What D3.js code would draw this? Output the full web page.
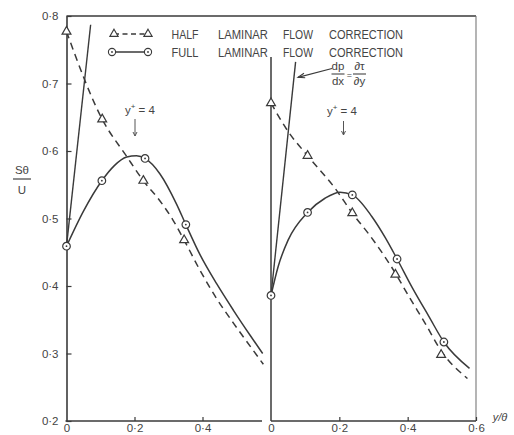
<!DOCTYPE html>
<html>
<head>
<meta charset="utf-8">
<script src="https://cdn.jsdelivr.net/npm/d3@7"></script>
<style>
  html, body { margin: 0; padding: 0; background: #ffffff; }
  svg { display: block; }
  text { font-family: "Liberation Sans", "DejaVu Sans", sans-serif; fill: #444; }
</style>
</head>
<body>
<svg id="chart" width="514" height="435"></svg>
<script>
// ---------- data ----------
const yTicks = [0.2, 0.3, 0.4, 0.5, 0.6, 0.7, 0.8];
const xTicksLeft = [0, 0.2, 0.4];
const xTicksRight = [0, 0.2, 0.4, 0.6];
const legendWords = [["HALF", "LAMINAR", "FLOW", "CORRECTION"], ["FULL", "LAMINAR", "FLOW", "CORRECTION"]];

// left panel
const leftHalfX = [0, 0.105, 0.226, 0.346];
const leftHalfY = [0.777, 0.647, 0.556, 0.468];
const leftFullX = [0, 0.104, 0.231, 0.351];
const leftFullY = [0.459, 0.556, 0.589, 0.491];
const leftHalfCurve = [[0,0.777],[0.105,0.647],[0.177,0.592],[0.226,0.556],[0.275,0.526],[0.314,0.497],[0.346,0.468],[0.393,0.423],[0.442,0.381],[0.491,0.345],[0.540,0.311],[0.579,0.284]];
const leftFullCurve = [[0,0.459],[0.05,0.511],[0.104,0.556],[0.14,0.578],[0.177,0.591],[0.206,0.593],[0.231,0.589],[0.275,0.566],[0.324,0.521],[0.351,0.491],[0.393,0.446],[0.442,0.403],[0.491,0.364],[0.540,0.327],[0.577,0.300]];
const leftGradientLine = [[0,0.459],[0.071,0.787]];

// right panel
const rightHalfX = [0, 0.107, 0.238, 0.364, 0.498];
const rightHalfY = [0.671, 0.593, 0.508, 0.417, 0.298];
const rightFullX = [0, 0.107, 0.238, 0.369, 0.506];
const rightFullY = [0.386, 0.509, 0.535, 0.440, 0.317];
const rightHalfCurve = [[0,0.671],[0.05,0.629],[0.107,0.593],[0.187,0.545],[0.238,0.508],[0.295,0.471],[0.364,0.419],[0.403,0.385],[0.452,0.344],[0.498,0.304],[0.575,0.263]];
const rightFullCurve = [[0,0.386],[0.021,0.429],[0.05,0.468],[0.107,0.509],[0.158,0.530],[0.202,0.539],[0.238,0.535],[0.295,0.503],[0.334,0.472],[0.369,0.440],[0.413,0.398],[0.462,0.355],[0.506,0.317],[0.581,0.278]];
const rightGradientLine = [[0,0.386],[0.072,0.732]];

// ---------- layout ----------
const svg = d3.select("#chart");
const ink = "#3a3a3a";
const yS = d3.scaleLinear().domain([0.2, 0.8]).range([421, 16]);
const xL = d3.scaleLinear().domain([0, 0.6]).range([66.5, 270.5]);
const xR = d3.scaleLinear().domain([0, 0.6]).range([271, 476]);
const fmt = d => (d === 0 ? "0" : d3.format(".1f")(d).replace(".", "\u00B7"));

// frame lines
svg.append("line").attr("x1", xL(0)).attr("x2", xR(0.6)).attr("y1", yS(0.8)).attr("y2", yS(0.8))
  .attr("stroke", ink).attr("stroke-width", 1.3);
svg.append("line").attr("x1", xR(0.6)).attr("x2", xR(0.6)).attr("y1", yS(0.8)).attr("y2", yS(0.2))
  .attr("stroke", "#777").attr("stroke-width", 1.1);
svg.append("line").attr("x1", xL(0) - 1).attr("x2", xL(0.575)).attr("y1", yS(0.2)).attr("y2", yS(0.2))
  .attr("stroke", ink).attr("stroke-width", 1.6);
svg.append("line").attr("x1", xR(0)).attr("x2", xR(0.6)).attr("y1", yS(0.2)).attr("y2", yS(0.2))
  .attr("stroke", ink).attr("stroke-width", 1.6);
svg.append("line").attr("x1", xR(0)).attr("x2", xR(0)).attr("y1", 57).attr("y2", yS(0.2))
  .attr("stroke", ink).attr("stroke-width", 1.5);

// left y axis
const gy = svg.append("g").attr("transform", `translate(${xL(0)},0)`)
  .call(d3.axisLeft(yS).tickValues(yTicks).tickSize(-5).tickSizeOuter(0).tickPadding(8).tickFormat(fmt));
gy.select(".domain").attr("stroke", ink).attr("stroke-width", 1.6);
gy.selectAll(".tick line").attr("stroke", ink).attr("stroke-width", 1.2);
gy.selectAll(".tick text").attr("font-size", 11.5).attr("fill", "#444")
  .attr("font-family", "Liberation Sans, DejaVu Sans, sans-serif");

// bottom axes
function bottomAxis(scale, ticks) {
  const g = svg.append("g").attr("transform", `translate(0,${yS(0.2)})`)
    .call(d3.axisBottom(scale).tickValues(ticks).tickSize(-4).tickSizeOuter(0).tickPadding(3).tickFormat(fmt));
  g.select(".domain").remove();
  g.selectAll(".tick line").attr("stroke", ink).attr("stroke-width", 1.2);
  g.selectAll(".tick text").attr("font-size", 11.5).attr("fill", "#444")
    .attr("font-family", "Liberation Sans, DejaVu Sans, sans-serif");
  g.selectAll(".tick").filter(d => d === 0).select("line").remove();
  return g;
}
bottomAxis(xL, xTicksLeft);
bottomAxis(xR, xTicksRight);

// axis titles
svg.append("text").attr("x", 22).attr("y", 174).attr("text-anchor", "middle").attr("font-size", 11.5).text("Sθ");
svg.append("line").attr("x1", 13).attr("x2", 31).attr("y1", 179).attr("y2", 179).attr("stroke", "#444").attr("stroke-width", 1.2);
svg.append("text").attr("x", 22).attr("y", 193.5).attr("text-anchor", "middle").attr("font-size", 11.5).text("U");
svg.append("text").attr("x", 500).attr("y", 421).attr("text-anchor", "middle").attr("font-size", 11)
  .attr("font-style", "italic").text("y/θ");

// ---------- curves ----------
function drawPanel(xs, halfCurve, fullCurve, gradLine, halfX, halfY, fullX, fullY) {
  const line = d3.line().x(d => xs(d[0])).y(d => yS(d[1])).curve(d3.curveMonotoneX);
  const straight = d3.line().x(d => xs(d[0])).y(d => yS(d[1]));
  svg.append("path").attr("d", line(halfCurve)).attr("fill", "none").attr("stroke", ink)
    .attr("stroke-width", 1.5).attr("stroke-dasharray", "7,5");
  svg.append("path").attr("d", line(fullCurve)).attr("fill", "none").attr("stroke", ink).attr("stroke-width", 1.5);
  svg.append("path").attr("d", straight(gradLine)).attr("fill", "none").attr("stroke", ink).attr("stroke-width", 1.4);
  const tri = d3.symbol().type(d3.symbolTriangle).size(34);
  svg.append("g").selectAll("path").data(halfX.map((x, i) => [x, halfY[i]])).join("path")
    .attr("d", tri).attr("transform", d => `translate(${xs(d[0])},${yS(d[1])})`)
    .attr("fill", "#fff").attr("stroke", ink).attr("stroke-width", 1.2);
  const cg = svg.append("g").selectAll("g").data(fullX.map((x, i) => [x, fullY[i]])).join("g")
    .attr("transform", d => `translate(${xs(d[0])},${yS(d[1])})`);
  cg.append("circle").attr("r", 3.8).attr("fill", "#fff").attr("stroke", ink).attr("stroke-width", 1.2);
  cg.append("circle").attr("r", 0.9).attr("fill", ink);
}
drawPanel(xL, leftHalfCurve, leftFullCurve, leftGradientLine, leftHalfX, leftHalfY, leftFullX, leftFullY);
drawPanel(xR, rightHalfCurve, rightFullCurve, rightGradientLine, rightHalfX, rightHalfY, rightFullX, rightFullY);

// ---------- legend ----------
const legY = [34, 52];
const wordX = [171.5, 218, 283, 329];
const wordW = [27, 50, 30, 74];
svg.append("line").attr("x1", 114).attr("x2", 148).attr("y1", legY[0]).attr("y2", legY[0])
  .attr("stroke", ink).attr("stroke-width", 1.4).attr("stroke-dasharray", "5,3.5");
[114, 148].forEach(x => svg.append("path").attr("d", d3.symbol().type(d3.symbolTriangle).size(30)())
  .attr("transform", `translate(${x},${legY[0]})`).attr("fill", "#fff").attr("stroke", ink).attr("stroke-width", 1.1));
svg.append("line").attr("x1", 112).attr("x2", 148).attr("y1", legY[1]).attr("y2", legY[1])
  .attr("stroke", ink).attr("stroke-width", 1.4);
[112, 148].forEach(x => {
  svg.append("circle").attr("cx", x).attr("cy", legY[1]).attr("r", 3.6).attr("fill", "#fff").attr("stroke", ink).attr("stroke-width", 1.1);
  svg.append("circle").attr("cx", x).attr("cy", legY[1]).attr("r", 0.9).attr("fill", ink);
});
legendWords.forEach((words, r) => {
  words.forEach((w, i) => {
    svg.append("text").attr("x", wordX[i]).attr("y", legY[r] + 4.5).attr("font-size", 12.5)
      .attr("textLength", wordW[i]).attr("lengthAdjust", "spacingAndGlyphs").text(w);
  });
});

// ---------- annotations ----------
function yPlus(x, base, arrowX, a1, a2) {
  const t = svg.append("text").attr("x", x).attr("y", base).attr("font-size", 11.5);
  t.append("tspan").text("y");
  t.append("tspan").attr("dy", -5).attr("font-size", 8).text("+");
  t.append("tspan").attr("dy", 5).text(" = 4");
  svg.append("line").attr("x1", arrowX).attr("x2", arrowX).attr("y1", a1).attr("y2", a2)
    .attr("stroke", "#555").attr("stroke-width", 1);
  svg.append("path").attr("d", `M${arrowX - 2},${a2 - 4} L${arrowX},${a2} L${arrowX + 2},${a2 - 4}`)
    .attr("fill", "none").attr("stroke", "#555").attr("stroke-width", 1);
}
yPlus(125, 114, 135, 119, 136);
yPlus(327, 115, 343.5, 121, 135);

const fr = (cx, top, bot) => {
  svg.append("text").attr("x", cx).attr("y", 70).attr("text-anchor", "middle").attr("font-size", 11.5).text(top);
  svg.append("line").attr("x1", cx - 6.5).attr("x2", cx + 6.5).attr("y1", 74).attr("y2", 74).attr("stroke", "#444").attr("stroke-width", 1.1);
  svg.append("text").attr("x", cx).attr("y", 85).attr("text-anchor", "middle").attr("font-size", 11.5).text(bot);
};
fr(338, "dp", "dx");
svg.append("text").attr("x", 349.5).attr("y", 78).attr("text-anchor", "middle").attr("font-size", 9).text("=");
fr(359.5, "\u2202\u03C4", "\u2202y");
svg.append("line").attr("x1", 332).attr("y1", 68.5).attr("x2", 298).attr("y2", 77.3).attr("stroke", ink).attr("stroke-width", 1.2);
svg.append("path").attr("d", "M304,73.2 L298,77.3 L305.2,77.8").attr("fill", "none").attr("stroke", ink).attr("stroke-width", 1.1);
</script>
</body>
</html>
